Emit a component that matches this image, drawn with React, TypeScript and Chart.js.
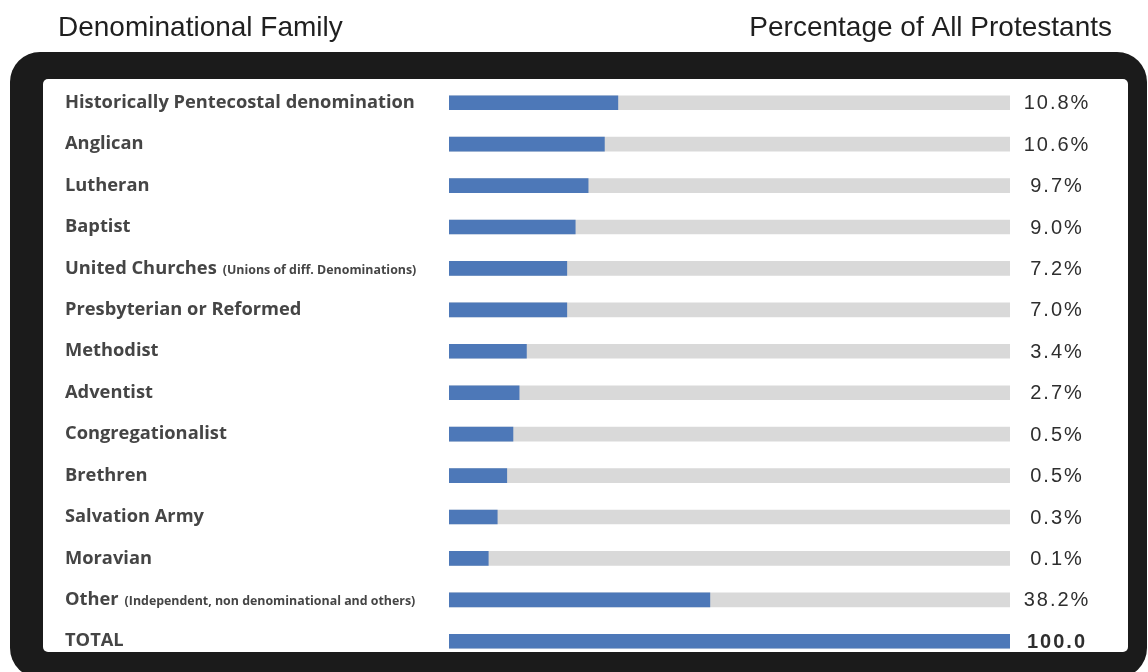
import React, { useEffect, useRef } from "react";
import { Chart, registerables } from "chart.js";

Chart.register(...registerables);

const categories: string[] = [
  "Historically Pentecostal denomination",
  "Anglican",
  "Lutheran",
  "Baptist",
  "United Churches",
  "Presbyterian or Reformed",
  "Methodist",
  "Adventist",
  "Congregationalist",
  "Brethren",
  "Salvation Army",
  "Moravian",
  "Other",
  "TOTAL",
];

const categoryNotes: string[] = [
  "",
  "",
  "",
  "",
  "(Unions of diff. Denominations)",
  "",
  "",
  "",
  "",
  "",
  "",
  "",
  "(Independent, non denominational and others)",
  "",
];

const percentLabels: string[] = [
  "10.8%",
  "10.6%",
  "9.7%",
  "9.0%",
  "7.2%",
  "7.0%",
  "3.4%",
  "2.7%",
  "0.5%",
  "0.5%",
  "0.3%",
  "0.1%",
  "38.2%",
  "100.0",
];

// bar lengths as drawn in the picture (share of the full track, 0-100)
const barLengths: number[] = [30.1, 27.7, 24.8, 22.5, 21.0, 21.0, 13.8, 12.5, 11.4, 10.3, 8.6, 7.0, 46.5, 100];

// grey background track
const trackLengths: number[] = [100, 100, 100, 100, 100, 100, 100, 100, 100, 100, 100, 100, 100, 100];

const headingLeft = "Denominational Family";
const headingRight = "Percentage of All Protestants";

const BLUE = "#4d78b8";
const TRACK = "#d9d9d9";
const FRAME = "#1b1b1b";

function roundRect(ctx: CanvasRenderingContext2D, x: number, y: number, w: number, h: number, r: number) {
  ctx.beginPath();
  ctx.moveTo(x + r, y);
  ctx.lineTo(x + w - r, y);
  ctx.arcTo(x + w, y, x + w, y + r, r);
  ctx.lineTo(x + w, y + h - r);
  ctx.arcTo(x + w, y + h, x + w - r, y + h, r);
  ctx.lineTo(x + r, y + h);
  ctx.arcTo(x, y + h, x, y + h - r, r);
  ctx.lineTo(x, y + r);
  ctx.arcTo(x, y, x + r, y, r);
  ctx.closePath();
}

const decorPlugin = {
  id: "decor",
  beforeDraw(chart: any) {
    const ctx: CanvasRenderingContext2D = chart.ctx;
    ctx.save();
    ctx.fillStyle = "#ffffff";
    ctx.fillRect(0, 0, chart.width, chart.height);
    // black frame
    ctx.fillStyle = FRAME;
    roundRect(ctx, 10, 52, 1137, 626, 30);
    ctx.fill();
    // white panel
    ctx.fillStyle = "#ffffff";
    roundRect(ctx, 43, 79, 1085, 573, 5);
    ctx.fill();
    // headings
    ctx.fillStyle = "#1f1f1f";
    ctx.font = '28px "Liberation Sans", Arial, sans-serif';
    ctx.textBaseline = "alphabetic";
    ctx.textAlign = "left";
    ctx.fillText(headingLeft, 58, 36);
    ctx.textAlign = "right";
    ctx.fillText(headingRight, 1112, 36);
    ctx.restore();
  },
  afterDatasetsDraw(chart: any) {
    const ctx: CanvasRenderingContext2D = chart.ctx;
    const yScale = chart.scales.y;
    ctx.save();
    ctx.textBaseline = "middle";
    for (let i = 0; i < categories.length; i++) {
      const y = yScale.getPixelForValue(i);
      // left label
      ctx.textAlign = "left";
      ctx.fillStyle = "#454545";
      ctx.font = '700 18.3px "Open Sans", sans-serif';
      const x0 = 65;
      ctx.fillText(categories[i], x0, y);
      if (categoryNotes[i]) {
        const w = ctx.measureText(categories[i]).width;
        ctx.font = '700 12.4px "Open Sans", sans-serif';
        ctx.fillText(categoryNotes[i], x0 + w + 6, y + 2);
      }
      // right percentage
      ctx.textAlign = "center";
      ctx.fillStyle = "#2e2e2e";
      const isTotal = i === categories.length - 1;
      ctx.font = (isTotal ? "700 " : "") + '20px "Liberation Sans", Arial, sans-serif';
      (ctx as any).letterSpacing = "2px";
      ctx.fillText(percentLabels[i], 1057, y + 1);
      (ctx as any).letterSpacing = "0px";
    }
    ctx.restore();
  },
};

export default function App() {
  const canvasRef = useRef<HTMLCanvasElement | null>(null);

  useEffect(() => {
    const canvas = canvasRef.current;
    if (!canvas) return;
    const chart = new Chart(canvas, {
      type: "bar",
      data: {
        labels: categories,
        datasets: [
          {
            label: "Share",
            data: barLengths,
            backgroundColor: BLUE,
            barThickness: 14,
            grouped: false,
            order: 0,
          },
          {
            label: "Track",
            data: trackLengths,
            backgroundColor: TRACK,
            barThickness: 14,
            grouped: false,
            order: 1,
          },
        ],
      },
      options: {
        indexAxis: "y",
        responsive: false,
        animation: false,
        layout: { padding: { left: 449, right: 138, top: 82, bottom: 10 } },
        scales: {
          x: { display: false, min: 0, max: 100 },
          y: { display: false, offset: true },
        },
        plugins: {
          legend: { display: false },
          tooltip: { enabled: false },
        },
      },
      plugins: [decorPlugin],
    });
    return () => chart.destroy();
  }, []);

  return (
    <div style={{ position: "absolute", left: 0, top: 0, width: 1148, height: 672, overflow: "hidden" }}>
      <canvas ref={canvasRef} width={1148} height={672} style={{ display: "block" }} />
    </div>
  );
}
